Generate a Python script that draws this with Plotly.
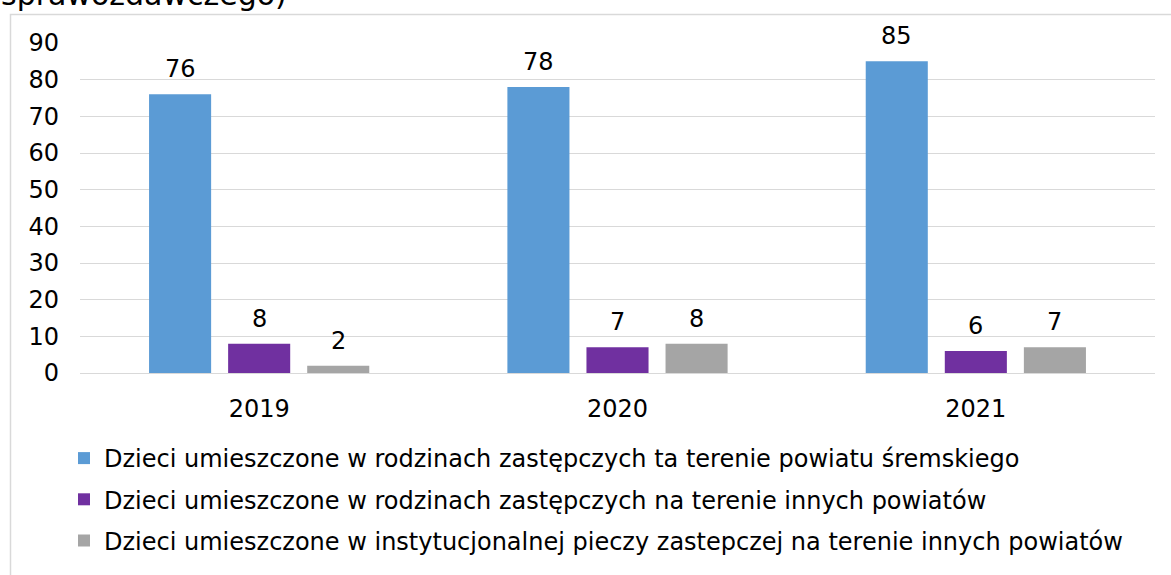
import plotly.graph_objects as go

years = ["2019", "2020", "2021"]
series_names = [
    "Dzieci umieszczone w rodzinach zastępczych ta terenie powiatu śremskiego",
    "Dzieci umieszczone w rodzinach zastępczych na terenie innych powiatów",
    "Dzieci umieszczone w instytucjonalnej pieczy zastepczej na terenie innych powiatów",
]
local_foster = [76, 78, 85]
other_foster = [8, 7, 6]
other_institutional = [2, 8, 7]
colors = ["#5b9bd5", "#7030a0", "#a5a5a5"]
y_ticks = [0, 10, 20, 30, 40, 50, 60, 70, 80, 90]

FONT = "DejaVu Sans, Verdana, sans-serif"
FS = 24
W, H = 1171, 575
ML, MR, MT, MB = 80, 16, 43, 202
PW, PH = W - ML - MR, H - MT - MB
BARGAP, GROUPGAP = 0.338, 0.215


def px_x(p):
    return (p - ML) / PW


def px_y(p):
    return (H - MB - p) / PH


series = [local_foster, other_foster, other_institutional]
fig = go.Figure()
for i, (name, vals) in enumerate(zip(series_names, series)):
    fig.add_trace(go.Bar(
        x=years, y=vals, name=name,
        marker=dict(color=colors[i], line=dict(width=0)),
        legendgroup=f"g{i}", hoverinfo="x+y",
    ))

# value labels above bars (offset of each bar within its group derived from bar layout)
cat_px = PW / len(years)
slot_px = cat_px * (1 - BARGAP) / len(series)
annotations = []
for i, vals in enumerate(series):
    for j, v in enumerate(vals):
        annotations.append(dict(
            x=j, y=v, xref="x", yref="y", text=str(v), showarrow=False,
            xanchor="center", yanchor="bottom", xshift=(i - 1) * slot_px, yshift=9,
            font=dict(family=FONT, size=FS, color="#000000"),
        ))

annotations.append(dict(text="sprawozdawczego)", xref="paper", yref="paper",
                        x=px_x(-1), xanchor="left", y=px_y(-6), yanchor="middle",
                        showarrow=False, font=dict(family=FONT, size=30, color="#000000")))

fig.update_layout(
    width=W, height=H,
    margin=dict(l=ML, r=MR, t=MT, b=MB, autoexpand=False),
    paper_bgcolor="white", plot_bgcolor="white",
    font=dict(family=FONT, size=FS, color="#000000"),
    barmode="group", bargap=BARGAP, bargroupgap=GROUPGAP,
    showlegend=True,
    legend=dict(
        orientation="v", x=px_x(64), xanchor="left", y=px_y(436), yanchor="top",
        font=dict(family=FONT, size=FS, color="#000000"),
        tracegroupgap=7, bgcolor="rgba(0,0,0,0)", itemclick=False,
    ),
    xaxis=dict(type="category", categoryorder="array", categoryarray=years,
               showgrid=False, showline=True, linecolor="#d9d9d9", linewidth=1,
               ticks="", ticklabelstandoff=14, tickfont=dict(size=FS)),
    yaxis=dict(range=[0, 90], tickvals=y_ticks, showgrid=True, gridcolor="#d9d9d9",
               gridwidth=1, zeroline=False, showline=False, ticks="",
               ticklabelstandoff=20, tickfont=dict(size=FS)),
    shapes=[dict(type="rect", xref="paper", yref="paper",
                 x0=px_x(10.5), x1=px_x(1180), y0=px_y(590), y1=px_y(14.5),
                 line=dict(color="#d9d9d9", width=1.5), fillcolor="rgba(0,0,0,0)", layer="below")],
    annotations=annotations,
)

fig.write_html("out.html", config={"displayModeBar": False},
               post_script="document.body.style.margin='0';document.body.style.overflow='hidden';")
